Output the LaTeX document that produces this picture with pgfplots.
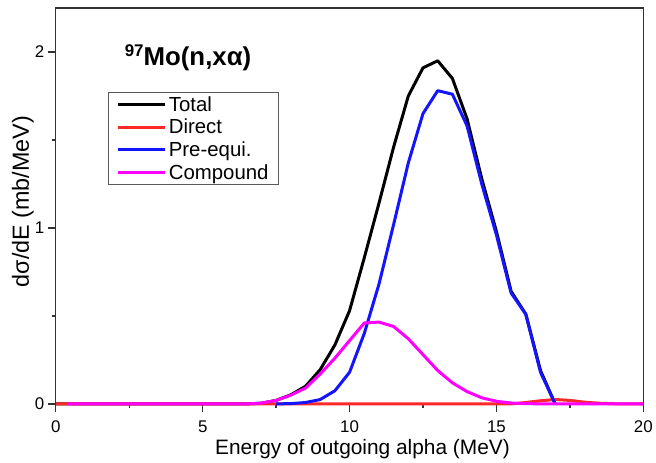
\documentclass[border=0pt]{standalone}
\usepackage{pgfplots}
\pgfplotsset{compat=1.18}
\usepackage{fontspec}
\setmainfont{Liberation Sans}
\definecolor{myred}{RGB}{255,40,40}
\definecolor{myblue}{RGB}{20,20,255}
\definecolor{mymag}{RGB}{255,0,255}
\begin{document}
\begin{tikzpicture}
\begin{axis}[
  scale only axis, width=589bp, height=397bp,
  xmin=0, xmax=20, ymin=0, ymax=2.25,
  clip=false,
  xtick={0,5,10,15,20}, minor xtick={2.5,7.5,12.5,17.5},
  ytick={0,1,2}, minor ytick={0.5,1.5},
  tick align=outside, tick pos=left,
  major tick length=8bp, minor tick length=4bp,
  every tick/.style={black!80, line width=1.3bp},
  axis line style={black!80, line width=1.3bp},
  tick label style={font=\fontsize{17}{17}\selectfont},
  xticklabel style={yshift=-5bp},
  /pgf/number format/assume math mode=true,
  legend style={at={(rel axis cs:0.088,0.788)}, anchor=north west,
    draw=gray!70!black, line width=1bp, font=\fontsize{20.5}{22}\selectfont,
    inner xsep=8bp, inner ysep=2bp, row sep=2.5bp, cells={anchor=west}},
  legend image code/.code={\draw[#1] (0bp,0bp) -- (48bp,0bp);},
  every axis plot/.append style={line width=3bp, line join=round},
]
\addplot[black] coordinates {
(0,0) (6.5,0) (7,0.004) (7.5,0.02) (8,0.052) (8.5,0.1) (9,0.195) (9.5,0.335) (10,0.53) (10.5,0.83) (11,1.14) (11.5,1.46) (12,1.75) (12.5,1.91) (13,1.95) (13.5,1.85) (14,1.62) (14.5,1.28) (15,0.98) (15.5,0.64) (16,0.51) (16.5,0.19) (17,0.0)
};
\addlegendentry{Total}
\addplot[myred] coordinates {
(0,0) (15.5,0) (16,0.008) (16.5,0.018) (17,0.025) (17.5,0.02) (18,0.01) (18.5,0.004) (19,0.001) (20,0)
};
\addlegendentry{Direct}
\addplot[myblue] coordinates {
(7.5,0) (8,0.002) (8.5,0.008) (9,0.025) (9.5,0.075) (10,0.18) (10.5,0.40) (11,0.68) (11.5,1.02) (12,1.37) (12.5,1.65) (13,1.78) (13.5,1.76) (14,1.58) (14.5,1.25) (15,0.96) (15.5,0.63) (16,0.51) (16.5,0.18) (17,0.0)
};
\addlegendentry{Pre-equi.}
\addplot[mymag] coordinates {
(0.4,0) (6.5,0) (7,0.005) (7.5,0.02) (8,0.05) (8.5,0.09) (9,0.17) (9.5,0.26) (10,0.36) (10.5,0.46) (11,0.465) (11.5,0.44) (12,0.37) (12.5,0.28) (13,0.19) (13.5,0.12) (14,0.07) (14.5,0.035) (15,0.015) (15.5,0.005) (16,0.002) (16.5,0) (20,0)
};
\addlegendentry{Compound}
\node[font=\bfseries\fontsize{26}{26}\selectfont] at (axis cs:4.5,1.966)
  {{\fontsize{17}{17}\selectfont\raisebox{9bp}{97}}Mo(n,xα)};
\node[font=\fontsize{21}{21}\selectfont, anchor=center, inner sep=0pt]
  at ([yshift=-45bp]rel axis cs:0.522,0) {Energy of outgoing alpha (MeV)};
\node[font=\fontsize{23.5}{23.5}\selectfont, anchor=center, inner sep=0pt, rotate=90]
  at ([xshift=-33bp]rel axis cs:0,0.511) {dσ/dE (mb/MeV)};
\path ([xshift=-56bp,yshift=-59bp]rel axis cs:0,0) rectangle ([xshift=11bp,yshift=8bp]rel axis cs:1,1);
\end{axis}
\end{tikzpicture}
\end{document}
